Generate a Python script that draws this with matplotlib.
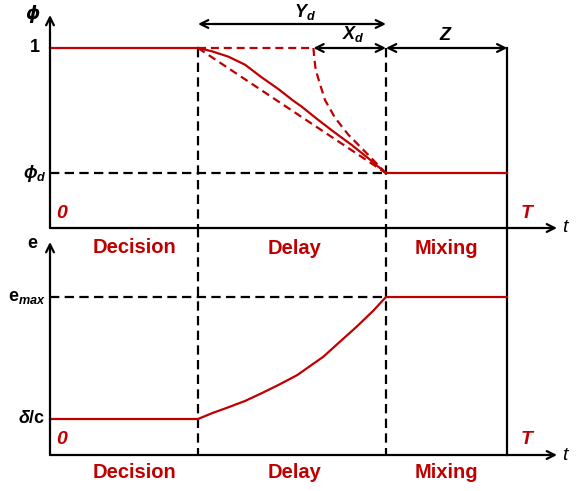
import matplotlib
matplotlib.use("Agg")
import matplotlib.pyplot as plt

plt.rcParams['font.family'] = ['Liberation Sans', 'DejaVu Sans']
plt.rcParams['mathtext.fontset'] = 'custom'
plt.rcParams['mathtext.rm'] = 'Liberation Sans:bold'
plt.rcParams['mathtext.it'] = 'Liberation Sans:italic:bold'
plt.rcParams['mathtext.bf'] = 'Liberation Sans:bold'

RED = '#C00000'

# ---- data (time in units where decision phase ends at 1) ----
t_decision = 1.0
t_mix = 2.27
t_x = 1.78
T_end = 3.09
phi_one = 1.0
phi_d = 0.305
e_max = 1.0
e_min = 0.228  # delta / c

# solid phi curve during delay
phi_curve_t = [1.0, 1.093, 1.205, 1.318, 1.430, 1.543, 1.644, 1.701, 1.813, 1.926, 2.039, 2.151, 2.27]
phi_curve_v = [1.0, 0.982, 0.952, 0.907, 0.837, 0.772, 0.707, 0.674, 0.600, 0.529, 0.461, 0.387, 0.305]
# dashed steep phi curve starting at t_x
phi_fast_t = [1.78, 1.785, 1.795, 1.824, 1.858, 1.926, 2.016, 2.128, 2.27]
phi_fast_v = [1.0, 0.95, 0.88, 0.800, 0.711, 0.612, 0.518, 0.425, 0.305]
# e curve during delay
e_curve_t = [1.0, 1.093, 1.205, 1.318, 1.430, 1.543, 1.669, 1.847, 1.959, 2.072, 2.184, 2.27]
e_curve_v = [0.228, 0.264, 0.302, 0.342, 0.391, 0.443, 0.505, 0.622, 0.717, 0.812, 0.913, 1.0]

phase_labels = ['Decision', 'Delay', 'Mixing']
phase_x = [0.574, 1.655, 2.68]

W, H = 578, 491
fig = plt.figure(figsize=(W / 100, H / 100), dpi=100)
xlim = (-50 / 148, 528 / 148)
split = 228
ax1 = fig.add_axes([0, 1 - split / H, 1, split / H])
ax2 = fig.add_axes([0, 0, 1, 1 - split / H])
ax1.set_xlim(*xlim); ax2.set_xlim(*xlim)
ax1.set_ylim(0, split / 180)
ax2.set_ylim(-(491 - 455) / 158, (455 - split) / 158)
for a in (ax1, ax2):
    a.axis('off')

LW = 1.6
DASH = (4.2, 2.4)
RDASH = (3.6, 2.2)
arrow_kw = dict(arrowstyle='->', lw=LW, color='black', mutation_scale=14, shrinkA=0, shrinkB=0)
darrow_kw = dict(arrowstyle='<->', lw=LW, color='black', mutation_scale=14, shrinkA=0, shrinkB=0)

x_arrow_end = (557 - 50) / 148
# axes arrows
ax1.annotate('', xy=(0, (228 - 15) / 180), xytext=(0, 0), arrowprops=arrow_kw)
ax1.annotate('', xy=(x_arrow_end, 0), xytext=(0, 0), arrowprops=arrow_kw)
ax2.annotate('', xy=(0, (455 - 242) / 158), xytext=(0, 0), arrowprops=arrow_kw)
ax2.annotate('', xy=(x_arrow_end, 0), xytext=(0, 0), arrowprops=arrow_kw)

# vertical guide lines
top2 = ax2.get_ylim()[1]
for tx in (t_decision, t_mix):
    ax1.plot([tx, tx], [phi_one, 0], color='black', lw=LW, dashes=DASH)
    ax2.plot([tx, tx], [top2, 0], color='black', lw=LW, dashes=DASH)
ax1.plot([T_end, T_end], [phi_one, 0], color='black', lw=LW)
ax2.plot([T_end, T_end], [top2, 0], color='black', lw=LW)

# horizontal dashed guides
ax1.plot([0, t_mix], [phi_d, phi_d], color='black', lw=LW, dashes=DASH)
ax2.plot([0, t_mix], [e_max, e_max], color='black', lw=LW, dashes=DASH)

# top panel red curves
ax1.plot([0, t_decision], [phi_one, phi_one], color=RED, lw=LW)
ax1.plot([t_decision, t_x], [phi_one, phi_one], color=RED, lw=LW, dashes=RDASH)
ax1.plot([t_decision, t_mix], [phi_one, phi_d], color=RED, lw=LW, dashes=RDASH)
ax1.plot(phi_curve_t, phi_curve_v, color=RED, lw=LW, solid_joinstyle='round')
ax1.plot(phi_fast_t, phi_fast_v, color=RED, lw=LW, dashes=RDASH)
ax1.plot([t_mix, T_end], [phi_d, phi_d], color=RED, lw=LW)

# bottom panel red curve
ax2.plot([0, t_decision], [e_min, e_min], color=RED, lw=LW)
ax2.plot(e_curve_t, e_curve_v, color=RED, lw=LW, solid_joinstyle='round')
ax2.plot([t_mix, T_end], [e_max, e_max], color=RED, lw=LW)

# dimension arrows
yd_y = (228 - 24) / 180
ax1.annotate('', xy=(t_mix, yd_y), xytext=(t_decision, yd_y), arrowprops=darrow_kw)
ax1.annotate('', xy=(t_mix, phi_one), xytext=(t_x, phi_one), arrowprops=darrow_kw)
ax1.annotate('', xy=(T_end, phi_one), xytext=(t_mix, phi_one), arrowprops=darrow_kw)
ax1.text(1.72, (228 - 12) / 180, r'$Y_{d}$', ha='center', va='center', fontsize=13)
ax1.text(2.05, (228 - 34) / 180, r'$X_{d}$', ha='center', va='center', fontsize=13)
ax1.text(2.67, (228 - 35) / 180, 'Z', ha='center', va='center', fontsize=13,
         fontweight='bold', fontstyle='italic')

# axis labels
ax1.text(-17 / 148, (228 - 14) / 180, 'ϕ', ha='center', va='center', fontsize=13,
         fontstyle='italic', fontweight='bold', family=['DejaVu Sans'])
ax1.text(-15 / 148, phi_one, '1', ha='center', va='center', fontsize=13, fontweight='bold')
ax1.text(-15 / 148, phi_d, r'$\phi_{d}$', ha='center', va='center', fontsize=13)
ax2.text(-18 / 148, (455 - 243) / 158, 'e', ha='center', va='center', fontsize=13, fontweight='bold')
ax2.text(-4 / 148, e_max, r'$\mathrm{e}_{max}$', ha='right', va='center', fontsize=13)
ax2.text(-4 / 148, e_min, r'$\delta\mathrm{/c}$', ha='right', va='center', fontsize=13)

ax1.text(12 / 148, (228 - 213) / 180, '0', ha='center', va='center', fontsize=14,
         color=RED, fontweight='bold', fontstyle='italic')
ax1.text(477 / 148, (228 - 213) / 180, 'T', ha='center', va='center', fontsize=14,
         color=RED, fontweight='bold', fontstyle='italic')
ax2.text(12 / 148, (455 - 440) / 158, '0', ha='center', va='center', fontsize=14,
         color=RED, fontweight='bold', fontstyle='italic')
ax2.text(477 / 148, (455 - 440) / 158, 'T', ha='center', va='center', fontsize=14,
         color=RED, fontweight='bold', fontstyle='italic')
ax1.text(515 / 148, 0, 't', ha='center', va='center', fontsize=14, fontstyle='italic')
ax2.text(515 / 148, 0, 't', ha='center', va='center', fontsize=14, fontstyle='italic')

for lbl, px in zip(phase_labels, phase_x):
    ax2.text(px, (455 - 248) / 158, lbl, ha='center', va='center', fontsize=14.5,
             color=RED, fontweight='bold')
    ax2.text(px, (455 - 473) / 158, lbl, ha='center', va='center', fontsize=14.5,
             color=RED, fontweight='bold')

fig.savefig('out.png', dpi=100)
